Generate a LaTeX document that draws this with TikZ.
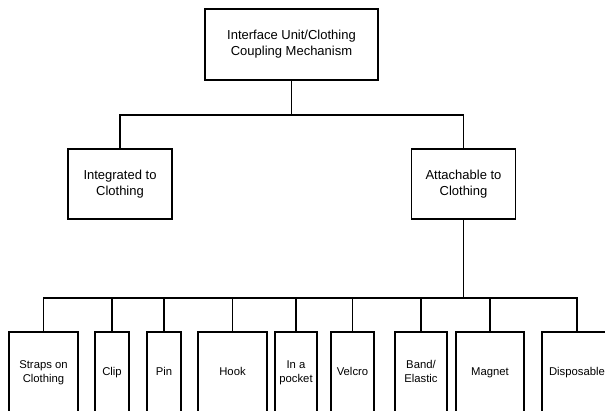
\documentclass[tikz,border=0pt]{standalone}
\usepackage{fontspec}
\setmainfont{Liberation Sans}
\begin{document}
\begin{tikzpicture}[x=1pt,y=-1pt,
  box/.style={draw,line width=1.2pt,inner sep=0pt,align=center,rectangle},
  bigbox/.style={box,font=\fontsize{13}{16}\selectfont},
  smallbox/.style={box,font=\fontsize{11.3}{13.5}\selectfont,minimum height=82pt},
  conn/.style={line width=1.2pt}]
\clip (0,0) rectangle (605,410);
\node[bigbox,minimum width=173pt,minimum height=71pt] (top) at (291.5,44.5) {\strut Interface Unit/Clothing\\\strut Coupling Mechanism};
\node[bigbox,minimum width=104pt,minimum height=70pt] (integ) at (120,184) {\strut Integrated to\\\strut Clothing};
\node[bigbox,minimum width=104pt,minimum height=70pt] (attach) at (463.5,184) {\strut Attachable to\\\strut Clothing};
\coordinate (j1) at (291.5,115);
\coordinate (j2) at (463.5,298);
\draw[conn] (top.south) -- (j1);
\draw[conn] (integ.north) |- (j1);
\draw[conn] (attach.north) |- (j1);
\draw[conn] (attach.south) -- (j2);
\node[smallbox,minimum width=69pt] (straps) at (43.5,373) {\strut Straps on\\\strut Clothing};
\node[smallbox,minimum width=34pt] (clip) at (112,373) {\strut Clip};
\node[smallbox,minimum width=34pt] (pin) at (164,373) {\strut Pin};
\node[smallbox,minimum width=69pt] (hook) at (232.5,373) {\strut Hook};
\node[smallbox,minimum width=42pt] (pocket) at (296,373) {\strut In a\\\strut pocket};
\node[smallbox,minimum width=43pt] (velcro) at (352.5,373) {\strut Velcro};
\node[smallbox,minimum width=52pt] (band) at (421,373) {\strut Band/\\\strut Elastic};
\node[smallbox,minimum width=68pt] (magnet) at (490,373) {\strut Magnet};
\node[smallbox,minimum width=70pt] (disp) at (577,373) {\strut Disposable};
\foreach \n in {straps,clip,pin,hook,pocket,velcro,band,magnet,disp}
  \draw[conn] (\n.north) |- (j2);
\end{tikzpicture}
\end{document}
